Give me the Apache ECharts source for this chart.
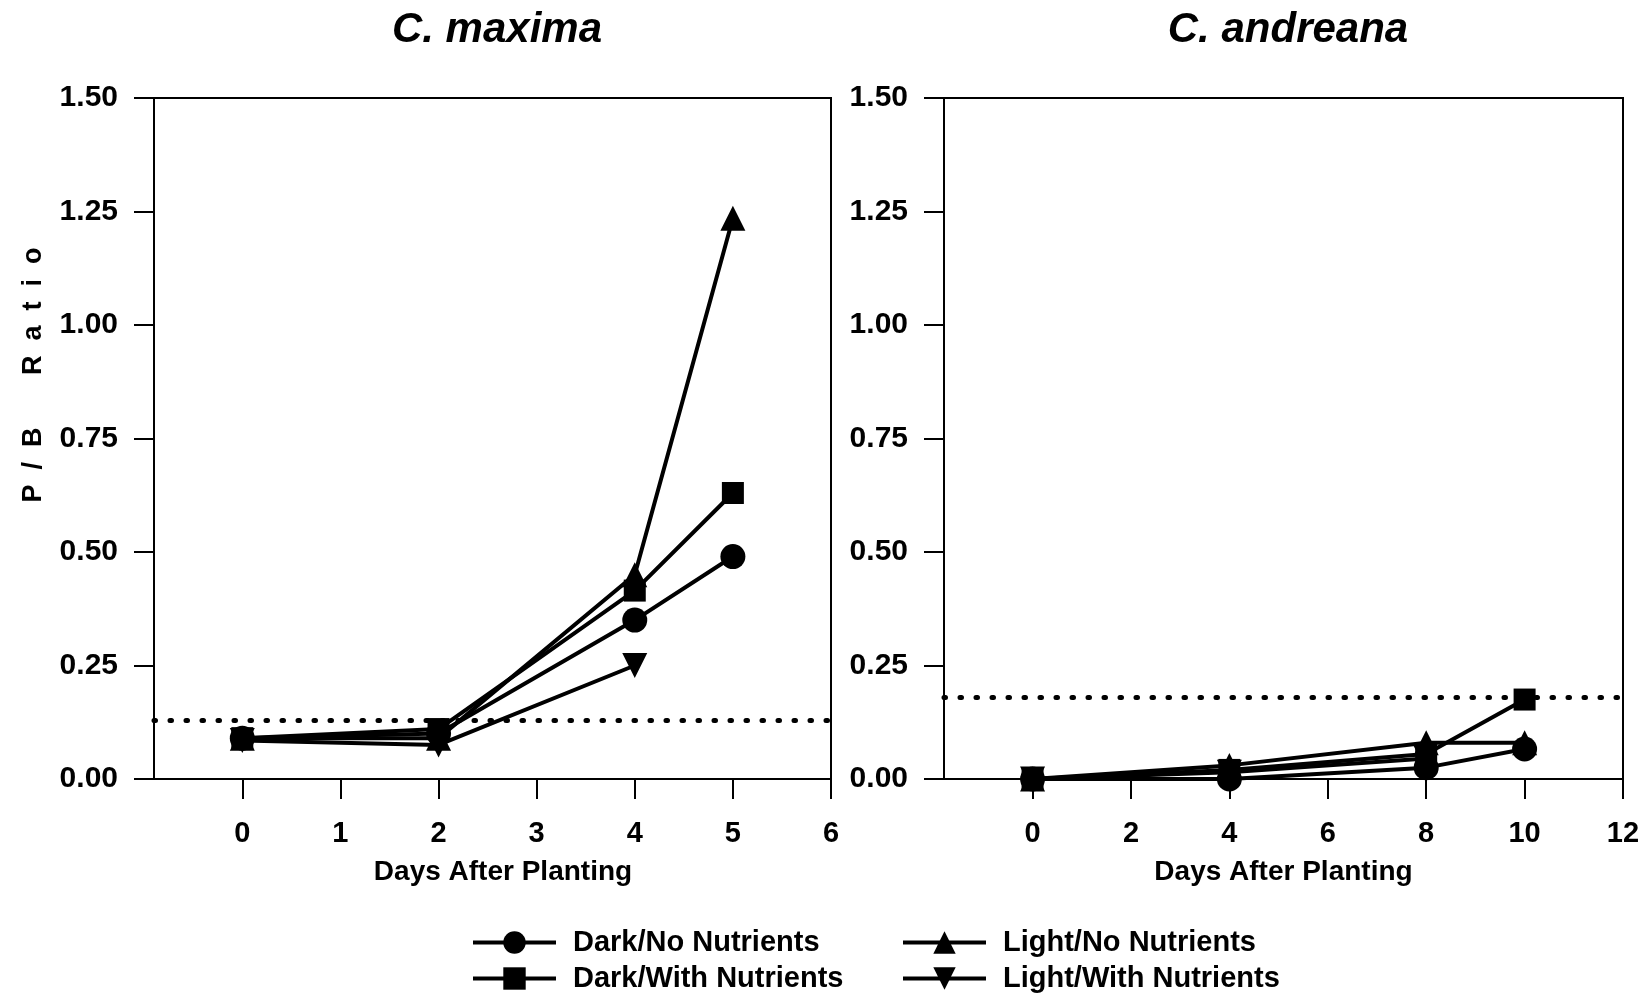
<!DOCTYPE html>
<html>
<head>
<meta charset="utf-8">
<script src="https://cdn.jsdelivr.net/npm/echarts@6/dist/echarts.min.js"></script>
<style>html,body{margin:0;padding:0;background:#fff;}#c{width:1649px;height:999px;}</style>
</head>
<body>
<div id="c"></div>
<script>
// ---- data ----
const panelTitles = ['C. maxima', 'C. andreana'];
const seriesNames = ['Dark/No Nutrients', 'Dark/With Nutrients', 'Light/No Nutrients', 'Light/With Nutrients'];
const xAxisName = 'Days After Planting';
const yAxisName = 'P  /  B       R  a  t  i  o';

const maximaDays = [0, 2, 4, 5];
const maximaDarkNo = [0.09, 0.10, 0.35, 0.49];
const maximaDarkWith = [0.09, 0.11, 0.415, 0.63];
const maximaLightNo = [0.09, 0.09, 0.45, 1.235];
const maximaLightWith = [0.085, 0.075, 0.25];

const andreanaDays = [0, 4, 8, 10];
const andreanaDarkNo = [0, 0.0, 0.025, 0.066];
const andreanaDarkWith = [0, 0.02, 0.055, 0.175];
const andreanaLightNo = [0, 0.03, 0.08, 0.08];
const andreanaLightWith = [0, 0.015, 0.045];

const maximaTicks = [0, 1, 2, 3, 4, 5, 6];
const andreanaTicks = [0, 2, 4, 6, 8, 10, 12];
const yTicks = [0, 0.25, 0.5, 0.75, 1.0, 1.25, 1.5];
const thresholds = [0.125, 0.185];

// ---- chart ----
const FONT = '"Liberation Sans", Arial, sans-serif';
const symbols = ['circle', 'rect', 'triangle', 'triangle'];
const rotations = [0, 0, 0, 180];
const sizes = [25, 22, 25, 25];

function pairs(days, vals) { return vals.map((v, i) => [days[i], v]); }

const panels = [
  { days: maximaDays, vals: [maximaDarkNo, maximaDarkWith, maximaLightNo, maximaLightWith] },
  { days: andreanaDays, vals: [andreanaDarkNo, andreanaDarkWith, andreanaLightNo, andreanaLightWith] }
];

const series = [];
panels.forEach((p, gi) => {
  p.vals.forEach((vals, si) => {
    const s = {
      name: seriesNames[si],
      type: 'line',
      xAxisIndex: gi,
      yAxisIndex: gi,
      data: pairs(p.days, vals),
      symbol: symbols[si],
      symbolRotate: rotations[si],
      symbolSize: sizes[si],
      clip: false,
      lineStyle: { color: '#000', width: 4 },
      itemStyle: { color: '#000' },
      emphasis: { disabled: true },
      z: 5 + si
    };
    if (si === 0) {
      s.markLine = {
        silent: true,
        symbol: 'none',
        label: { show: false },
        lineStyle: { color: '#000', width: 5, type: [1.5, 14.5], cap: 'round' },
        data: [{ yAxis: thresholds[gi] }]
      };
    }
    series.push(s);
  });
});

const gridTop = 98, gridBottom = 220;
const grids = [
  { left: 154, right: 818, top: gridTop, bottom: gridBottom, show: true, borderColor: '#000', borderWidth: 2, backgroundColor: 'transparent' },
  { left: 944, right: 26, top: gridTop, bottom: gridBottom, show: true, borderColor: '#000', borderWidth: 2, backgroundColor: 'transparent' }
];

function xAx(gi, min, max, ticks, namePad) {
  return {
    type: 'value', gridIndex: gi, min: min, max: max,
    name: xAxisName, nameLocation: 'middle', nameGap: 79,
    nameTextStyle: { fontFamily: FONT, fontSize: 28, fontWeight: 'bold', color: '#000', padding: namePad },
    axisLine: { show: true, onZero: false, lineStyle: { color: '#000', width: 2 } },
    axisTick: { show: true, inside: false, length: 20, lineStyle: { color: '#000', width: 2 }, customValues: ticks },
    axisLabel: { show: true, margin: 40, fontFamily: FONT, fontSize: 29, fontWeight: 'bold', color: '#000', customValues: ticks },
    splitLine: { show: false }
  };
}
function yAx(gi) {
  return {
    type: 'value', gridIndex: gi, min: 0, max: 1.5, interval: 0.25,
    axisLine: { show: true, onZero: false, lineStyle: { color: '#000', width: 2 } },
    axisTick: { show: true, inside: false, length: 20, lineStyle: { color: '#000', width: 2 }, customValues: yTicks },
    axisLabel: { show: true, margin: 36, fontFamily: FONT, fontSize: 30, fontWeight: 'bold', color: '#000',
      customValues: yTicks, formatter: v => v.toFixed(2) },
    splitLine: { show: false }
  };
}

function legendAt(name, left, top) {
  return {
    orient: 'horizontal', left: left, top: top, padding: 0,
    itemWidth: 83, itemHeight: 28,
    lineStyle: { color: '#000', width: 4 },
    itemStyle: { color: '#000' },
    textStyle: { fontFamily: FONT, fontSize: 29, fontWeight: 'bold', color: '#000', padding: [0, 0, 0, 12] },
    selectedMode: false,
    data: [name]
  };
}

const option = {
  backgroundColor: '#fff',
  animation: false,
  title: [
    { text: panelTitles[0], left: 492, top: 4, textAlign: 'center',
      textStyle: { fontFamily: FONT, fontSize: 42, fontWeight: 'bold', fontStyle: 'italic', color: '#000' } },
    { text: panelTitles[1], left: 1283, top: 4, textAlign: 'center',
      textStyle: { fontFamily: FONT, fontSize: 42, fontWeight: 'bold', fontStyle: 'italic', color: '#000' } }
  ],
  grid: grids,
  xAxis: [xAx(0, -0.9, 6, maximaTicks, [0, 0, 0, 21]), xAx(1, -1.8, 12, andreanaTicks, 0)],
  yAxis: [yAx(0), yAx(1)],
  legend: [
    legendAt(seriesNames[0], 471, 928),
    legendAt(seriesNames[1], 471, 964),
    legendAt(seriesNames[2], 901, 928),
    legendAt(seriesNames[3], 901, 964)
  ],
  graphic: [{
    type: 'text', x: 34, y: 375, rotation: Math.PI / 2,
    style: { text: yAxisName, fontFamily: FONT, fontSize: 27, fontWeight: 'bold', fill: '#000',
      textAlign: 'center', textVerticalAlign: 'middle' }
  }],
  series: series
};

const chart = echarts.init(document.getElementById('c'), null, { renderer: 'canvas' });
chart.setOption(option);
</script>
</body>
</html>
